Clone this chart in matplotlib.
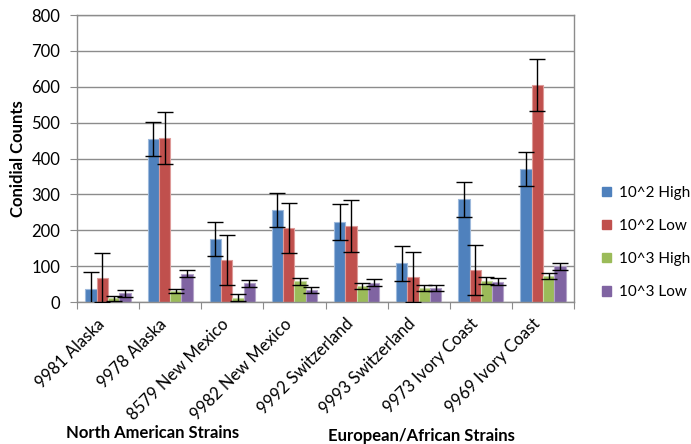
import numpy as np
import matplotlib.pyplot as plt
from matplotlib.patches import Patch

plt.rcParams['font.family'] = ['Lato', 'DejaVu Sans']

strains = ["9981 Alaska", "9978 Alaska", "8579 New Mexico", "9982 New Mexico",
           "9992 Switzerland", "9993 Switzerland", "9973 Ivory Coast", "9969 Ivory Coast"]
series = ["10^2 High", "10^2 Low", "10^3 High", "10^3 Low"]

high2 = [35, 455, 175, 257, 223, 108, 286, 370]
low2 = [68, 458, 116, 206, 211, 70, 89, 604]
high3 = [10, 31, 12, 58, 45, 39, 59, 73]
low3 = [24, 79, 52, 33, 54, 39, 57, 99]

high2_err = [48, 47, 47, 48, 49, 49, 48, 48]
low2_err = [69, 72, 70, 70, 72, 69, 70, 72]
high3_err = [8, 6, 9, 10, 9, 9, 10, 8]
low3_err = [9, 9, 9, 9, 9, 9, 9, 9]

colors = ["#4F81BD", "#C0504D", "#9BBB59", "#8064A2"]
edges = ["#9DB9DC", "#DE9A98", "#C7DAA3", "#B3A2C8"]

values = [high2, low2, high3, low3]
errors = [high2_err, low2_err, high3_err, low3_err]

fig = plt.figure(figsize=(6.91, 4.44), dpi=100)
ax = fig.add_axes([77/691, 1-302/444, (574-77)/691, (302-15)/444])

x = np.arange(len(strains))
w = 1/5.5
for i in range(4):
    pos = x + (i - 1.5)*w
    ax.bar(pos, values[i], w, color=colors[i], edgecolor=edges[i], linewidth=0.8, zorder=2)
    ax.errorbar(pos, values[i], yerr=errors[i], fmt='none', ecolor='black',
                elinewidth=1, capsize=5.5, capthick=1, zorder=3)

ax.set_xlim(-0.5, len(strains) - 0.5)
ax.set_ylim(0, 800)
ax.set_yticks(np.arange(0, 801, 100))
ax.yaxis.grid(True, color='#8C8C8C', linewidth=1, zorder=0)
ax.set_axisbelow(True)

# category boundaries get the tick marks, names sit at the centres
ax.set_xticks(np.arange(-0.5, len(strains)), minor=False)
ax.set_xticklabels([])
ax.set_xticks(x, minor=True)
ax.set_xticklabels(strains, minor=True, rotation=45, ha='right', va='top',
                   rotation_mode='default', fontsize=12)
ax.tick_params(axis='x', which='major', length=5, color='#8C8C8C', direction='out')
ax.tick_params(axis='x', which='minor', length=0, pad=10)
ax.tick_params(axis='y', length=5, color='#8C8C8C', labelsize=12, pad=7)
for s in ax.spines.values():
    s.set_color('#8C8C8C')
    s.set_linewidth(1)

ax.set_ylabel("Conidial Counts", fontweight='bold', fontsize=12)
ax.yaxis.set_label_coords(-0.103, 0.5)

fig.text(153/691, 1-433/444, "North American Strains", fontweight='bold',
         fontsize=12, ha='center', va='center')
fig.text(421/691, 1-436/444, "European/African Strains", fontweight='bold',
         fontsize=12, ha='center', va='center')

handles = [Patch(facecolor=c, edgecolor=c) for c in colors]
fig.legend(handles, series, loc='upper left', bbox_to_anchor=(588/691, 1-172/444),
           frameon=False, fontsize=11, handlelength=0.6, handleheight=0.6,
           handletextpad=0.5, labelspacing=1.25)

fig.savefig("out.png", dpi=100)
